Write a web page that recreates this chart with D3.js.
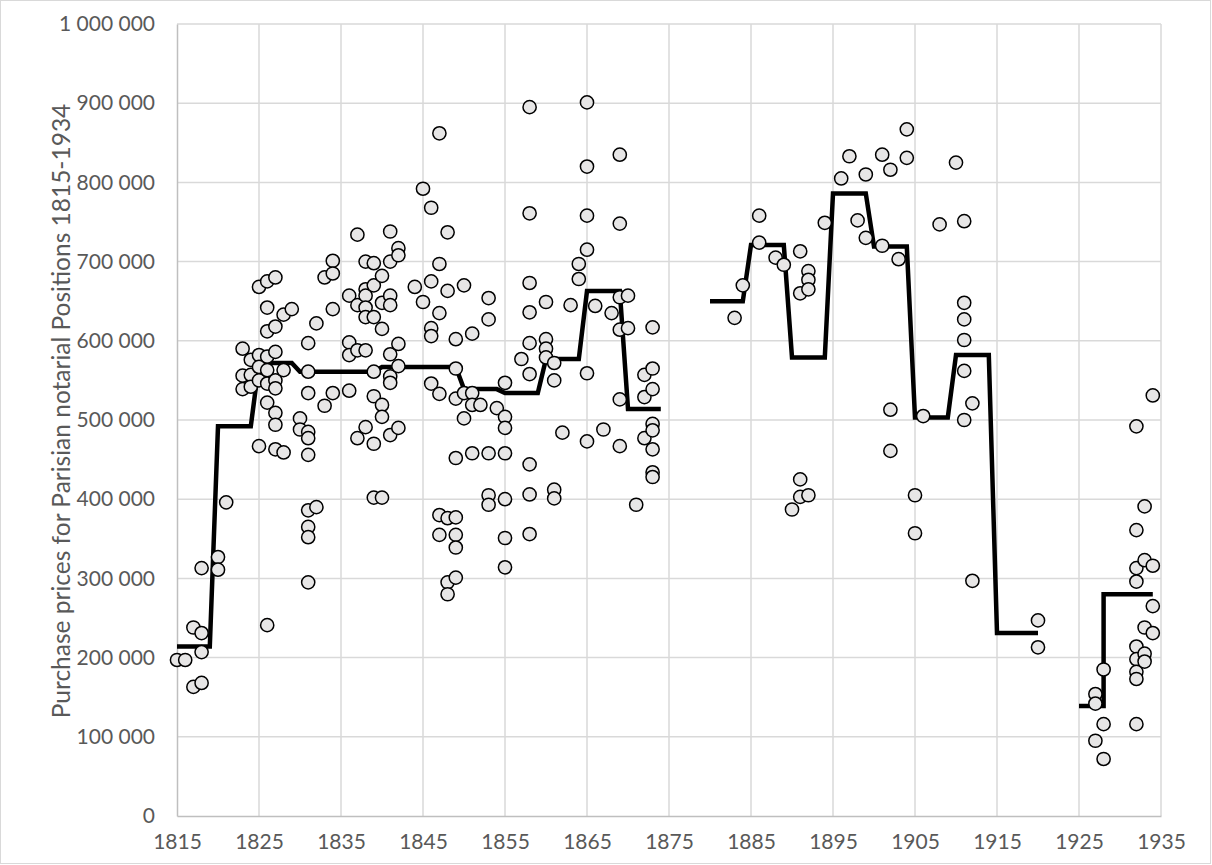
<!DOCTYPE html>
<html>
<head>
<meta charset="utf-8">
<script src="https://cdn.jsdelivr.net/npm/d3@7"></script>
<style>
  body { margin: 0; background: #fff; }
  svg { display: block; font-family: Lato, "Open Sans", sans-serif; }
</style>
</head>
<body>
<div id="chart"></div>
<script>
var width = 1212,
  height = 865;

// purchase prices, in thousands, one list per year
var pointYears = [1815, 1816, 1817, 1818, 1820, 1821, 1823, 1824, 1825, 1826, 1827, 1828, 1829, 1830,
  1831, 1832, 1833, 1834, 1836, 1837, 1838, 1839, 1840, 1841, 1842, 1844, 1845, 1846, 1847, 1848,
  1849, 1850, 1851, 1852, 1853, 1854, 1855, 1857, 1858, 1860, 1861, 1862, 1863, 1864, 1865, 1866,
  1867, 1868, 1869, 1870, 1871, 1872, 1873, 1883, 1884, 1886, 1888, 1889, 1890, 1891, 1892, 1894,
  1896, 1897, 1898, 1899, 1901, 1902, 1903, 1904, 1905, 1906, 1908, 1910, 1911, 1912, 1920, 1927,
  1928, 1932, 1933, 1934];

var pointPrices = [
  [197], [197], [238, 163], [231, 207, 168, 313], [327, 311], [396], [590, 556, 539], [576, 557, 542],
  [668, 582, 567, 550, 467], [675, 642, 612, 580, 563, 546, 522, 241],
  [680, 618, 586, 550, 540, 509, 494, 463], [633, 563, 459], [640], [502, 488],
  [597, 561, 534, 485, 477, 456, 386, 365, 352, 295], [622, 390], [680, 518], [701, 685, 640, 534],
  [657, 598, 582, 537], [734, 645, 588, 477], [700, 665, 657, 642, 630, 588, 491],
  [698, 670, 630, 561, 530, 470, 402], [682, 648, 615, 519, 504, 402],
  [738, 700, 657, 645, 583, 555, 547, 481], [717, 708, 596, 568, 490], [668], [792, 649],
  [768, 675, 616, 606, 546], [862, 697, 635, 533, 380, 355], [737, 663, 376, 295, 280],
  [602, 565, 527, 452, 377, 355, 339, 301], [670, 534, 502], [609, 534, 519, 458], [519],
  [654, 627, 458, 405, 393], [515], [547, 504, 490, 458, 400, 351, 314], [577],
  [895, 761, 673, 636, 597, 558, 444, 406, 356], [649, 602, 590, 579], [572, 550, 412, 401], [484],
  [645], [697, 678], [901, 820, 758, 715, 559, 473], [644], [488], [635], [835, 748, 655, 614, 526, 467],
  [657, 616], [393], [557, 529, 477], [617, 565, 539, 495, 487, 463, 434, 428], [629], [670],
  [758, 724], [705], [696], [387], [713, 660, 425, 403], [688, 677, 665, 405], [749], [805], [833],
  [752], [810, 730], [835, 720], [816, 513, 461], [703], [867, 831], [405, 357], [505], [747], [825],
  [751, 648, 627, 601, 562, 500], [521, 297], [247, 213], [154, 142, 95], [185, 116, 72],
  [492, 361, 313, 296, 214, 198, 182, 173, 116], [391, 323, 238, 205, 195], [531, 316, 265, 231]
];

// average price line, in thousands (null breaks the line)
var lineYears = [1815, 1819, 1820, 1824, 1825, 1829, 1830, 1839, 1840, 1849, 1850, 1854, 1855, 1859,
  1860, 1864, 1865, 1869, 1870, 1874, 1877,
  1880, 1884, 1885, 1889, 1890, 1894, 1895, 1899, 1900, 1904, 1905, 1909, 1910, 1914, 1915, 1920, 1922,
  1925, 1928, 1928, 1934];
var lineValues = [214, 214, 492, 492, 572, 572, 561, 561, 567, 567, 539, 539, 534, 534,
  577, 577, 663, 663, 514, 514, null,
  650, 650, 721, 721, 579, 579, 786, 786, 719, 719, 503, 503, 582, 582, 231, 231, null,
  139, 139, 280, 280];

var xTicks = d3.range(1815, 1936, 10);
var yTicks = d3.range(0, 1000001, 100000);
var yTitle = "Purchase prices for Parisian notarial Positions 1815-1934";

var svg = d3.select("#chart").append("svg")
  .attr("width", width)
  .attr("height", height);

// chart border
svg.append("rect")
  .attr("x", 0.5).attr("y", 0.5)
  .attr("width", width - 2).attr("height", height - 2)
  .attr("fill", "#fff")
  .attr("stroke", "#d9d9d9");

var x = d3.scaleLinear().domain([1815, 1935]).range([177, 1161]);
var y = d3.scaleLinear().domain([0, 1000000]).range([816, 24]);

var fmt = d3.formatLocale({ decimal: ",", thousands: " ", grouping: [3], currency: ["", ""] }).format(",");

// gridlines
svg.append("g").selectAll("line")
  .data(yTicks.slice(1))
  .enter().append("line")
  .attr("x1", x(1815)).attr("x2", x(1935))
  .attr("y1", function (d) { return y(d); })
  .attr("y2", function (d) { return y(d); })
  .attr("stroke", "#d9d9d9")
  .attr("stroke-width", 1.5);

svg.append("g").selectAll("line")
  .data(xTicks.slice(1))
  .enter().append("line")
  .attr("y1", y(0)).attr("y2", y(1000000))
  .attr("x1", function (d) { return x(d); })
  .attr("x2", function (d) { return x(d); })
  .attr("stroke", "#d9d9d9")
  .attr("stroke-width", 1.5);

// axes
var xAxis = svg.append("g")
  .attr("transform", "translate(0," + y(0) + ")")
  .call(d3.axisBottom(x).tickValues(xTicks).tickFormat(d3.format("d")).tickSize(0).tickPadding(18));
var yAxis = svg.append("g")
  .attr("transform", "translate(" + x(1815) + ",0)")
  .call(d3.axisLeft(y).tickValues(yTicks).tickFormat(fmt).tickSize(0).tickPadding(22));

[xAxis, yAxis].forEach(function (a) {
  a.select(".domain").attr("stroke", "#bfbfbf").attr("stroke-width", 1.5);
  a.selectAll("text")
    .attr("fill", "#595959")
    .style("font-family", "Lato")
    .style("font-size", "21px");
});

// axis title
svg.append("text")
  .attr("transform", "translate(70,411) rotate(-90)")
  .attr("text-anchor", "middle")
  .attr("fill", "#595959")
  .style("font-size", "24.5px")
  .text(yTitle);

// line
var lineData = lineYears.map(function (d, i) { return { year: d, v: lineValues[i] }; });
var line = d3.line()
  .defined(function (d) { return d.v != null; })
  .x(function (d) { return x(d.year); })
  .y(function (d) { return y(d.v * 1000); });

svg.append("path")
  .datum(lineData)
  .attr("d", line)
  .attr("fill", "none")
  .attr("stroke", "#000")
  .attr("stroke-width", 4.5)
  .attr("stroke-linejoin", "miter");

// points
var points = [];
pointYears.forEach(function (yr, i) {
  pointPrices[i].forEach(function (p) { points.push({ year: yr, price: p }); });
});

svg.append("g").selectAll("circle")
  .data(points)
  .enter().append("circle")
  .attr("cx", function (d) { return x(d.year); })
  .attr("cy", function (d) { return y(d.price * 1000); })
  .attr("r", 6.6)
  .attr("fill", "#e7e6e6")
  .attr("stroke", "#000")
  .attr("stroke-width", 1.5);
</script>
</body>
</html>
